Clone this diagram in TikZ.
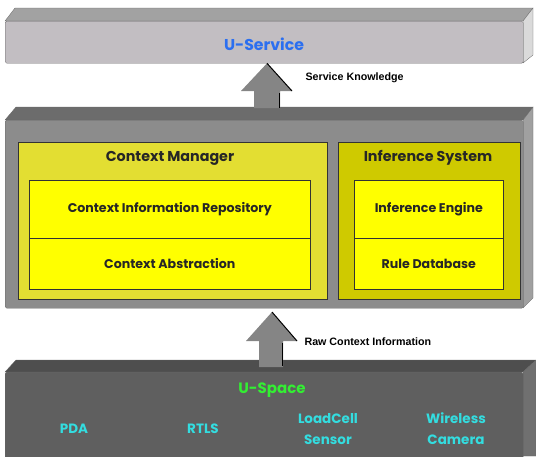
\documentclass[tikz,border=0pt]{standalone}
\usepackage{fontspec}
\setmainfont{Poppins}
\newfontfamily\narrowfont{Liberation Sans}
\definecolor{svcfront}{HTML}{C2BEC2}
\definecolor{svctop}{HTML}{A2A2A2}
\definecolor{svcside}{HTML}{DADADA}
\definecolor{midfront}{HTML}{8C8C8C}
\definecolor{midtop}{HTML}{6C6C6C}
\definecolor{midside}{HTML}{A0A0A0}
\definecolor{spcfront}{HTML}{5F5F5F}
\definecolor{spctop}{HTML}{4E4E4E}
\definecolor{spcside}{HTML}{707070}
\definecolor{cmfill}{HTML}{E3DE32}
\definecolor{isfill}{HTML}{CFCA00}
\definecolor{inner}{HTML}{FFFF00}
\definecolor{svcblue}{HTML}{2B6FF0}
\definecolor{spcgreen}{HTML}{33EE33}
\definecolor{itemcyan}{HTML}{33DDE0}
\definecolor{arrowgray}{HTML}{858585}
\tikzset{
  face/.style={draw=black!60, line width=0.3pt},
  front/.style={face, rounded corners=1.5pt, anchor=north west, inner sep=0pt},
  box/.style={draw=black!80, line width=0.6pt, anchor=north west, inner sep=0pt},
  ttl/.style={font=\bfseries\fontsize{14.3}{16}\selectfont, text=black!85},
  lbl/.style={font=\bfseries\fontsize{12.6}{14}\selectfont, text=black!85},
  item/.style={font=\bfseries\fontsize{13.5}{21}\selectfont, text=itemcyan, align=center},
  flowlbl/.style={font=\narrowfont\bfseries\fontsize{10.7}{12}\selectfont, anchor=west},
  blockarrow/.style={fill=arrowgray, draw=none},
}
\begin{document}
\begin{tikzpicture}[x=1pt,y=-1pt]
\useasboundingbox (0,0) rectangle (536,456);
% U-Service block
\fill[svctop, face] (5,21) -- (15,8) -- (533,8) -- (523,21) -- cycle;
\fill[svcside, face] (523,21) -- (533,8) -- (533,55) -- (523,63) -- cycle;
\node[front, fill=svcfront, minimum width=518pt, minimum height=42pt] (svc) at (5,21) {};
\node[font=\bfseries\fontsize{15.7}{18}\selectfont, text=svcblue] (svct) at (264,44) {U-Service};
% middle block
\fill[midtop, face] (5,120) -- (16,107) -- (533,107) -- (523,120) -- cycle;
\fill[midside, face] (523,120) -- (533,107) -- (533,298) -- (523,308) -- cycle;
\node[front, fill=midfront, minimum width=518pt, minimum height=188pt] (mid) at (5,120) {};
% U-Space block
\fill[spctop, face] (5,372) -- (16,360) -- (536,360) -- (523,372) -- cycle;
\fill[spcside, face] (523,372) -- (536,360) -- (536,456) -- (523,456) -- cycle;
\node[front, fill=spcfront, minimum width=518pt, minimum height=90pt] (spc) at (5,372) {};
% Context manager
\node[box, fill=cmfill, minimum width=309pt, minimum height=157pt] (cm) at (18,142) {};
\node[ttl] (cmt) at (170,158) {Context Manager};
\node[box, fill=inner, minimum width=281pt, minimum height=58pt] (cir) at (29,180) {};
\node[lbl] at (cir.center) {Context Information Repository};
\node[box, fill=inner, minimum width=281pt, minimum height=51pt] (ca) at (29,238) {};
\node[lbl] at (ca.center) {Context Abstraction};
% Inference system
\node[box, fill=isfill, minimum width=182pt, minimum height=157pt] (is) at (338,142) {};
\node[ttl] (ist) at (428,158) {Inference System};
\node[box, fill=inner, minimum width=149pt, minimum height=58pt] (ie) at (354,180) {};
\node[lbl] at (ie.center) {Inference Engine};
\node[box, fill=inner, minimum width=149pt, minimum height=51pt] (rd) at (354,238) {};
\node[lbl] at (rd.center) {Rule Database};
% U-Space texts
\node[font=\bfseries\fontsize{15}{17}\selectfont, text=spcgreen] (spct) at (272,390) {U-Space};
\node[item] (pda) at (74,429) {PDA};
\node[item] (rtls) at (203,429) {RTLS};
\node[item] (lcs) at (328,429) {LoadCell\\Sensor};
\node[item] (wc) at (456,429) {Wireless\\Camera};
% arrow 1: mid -> svc
\coordinate (a1tip) at (svc.south -| 267,0);
\fill[blockarrow] (a1tip) -- (292,91) -- (280,91) -- (280,108) -- (254,108) -- (254,91) -- (241,91) -- cycle;
\draw[black, line width=1pt] (a1tip) -- (292,91);
\draw[black, line width=1.2pt] (279.5,93) -- (279.5,108);
\node[flowlbl] (sk) at (302,78) {Service Knowledge};
% arrow 2: spc -> mid
\coordinate (a2tip) at (mid.south -| 272,0);
\fill[blockarrow] (272,312) -- (297,341) -- (283,341) -- (283,367) -- (259,367) -- (259,341) -- (246,341) -- cycle;
\draw[black, line width=1pt] (272,312) -- (297,341);
\draw[black, line width=1.2pt] (282.5,343) -- (282.5,366);
\node[flowlbl] (rci) at (301,342) {Raw Context Information};
\end{tikzpicture}
\end{document}
